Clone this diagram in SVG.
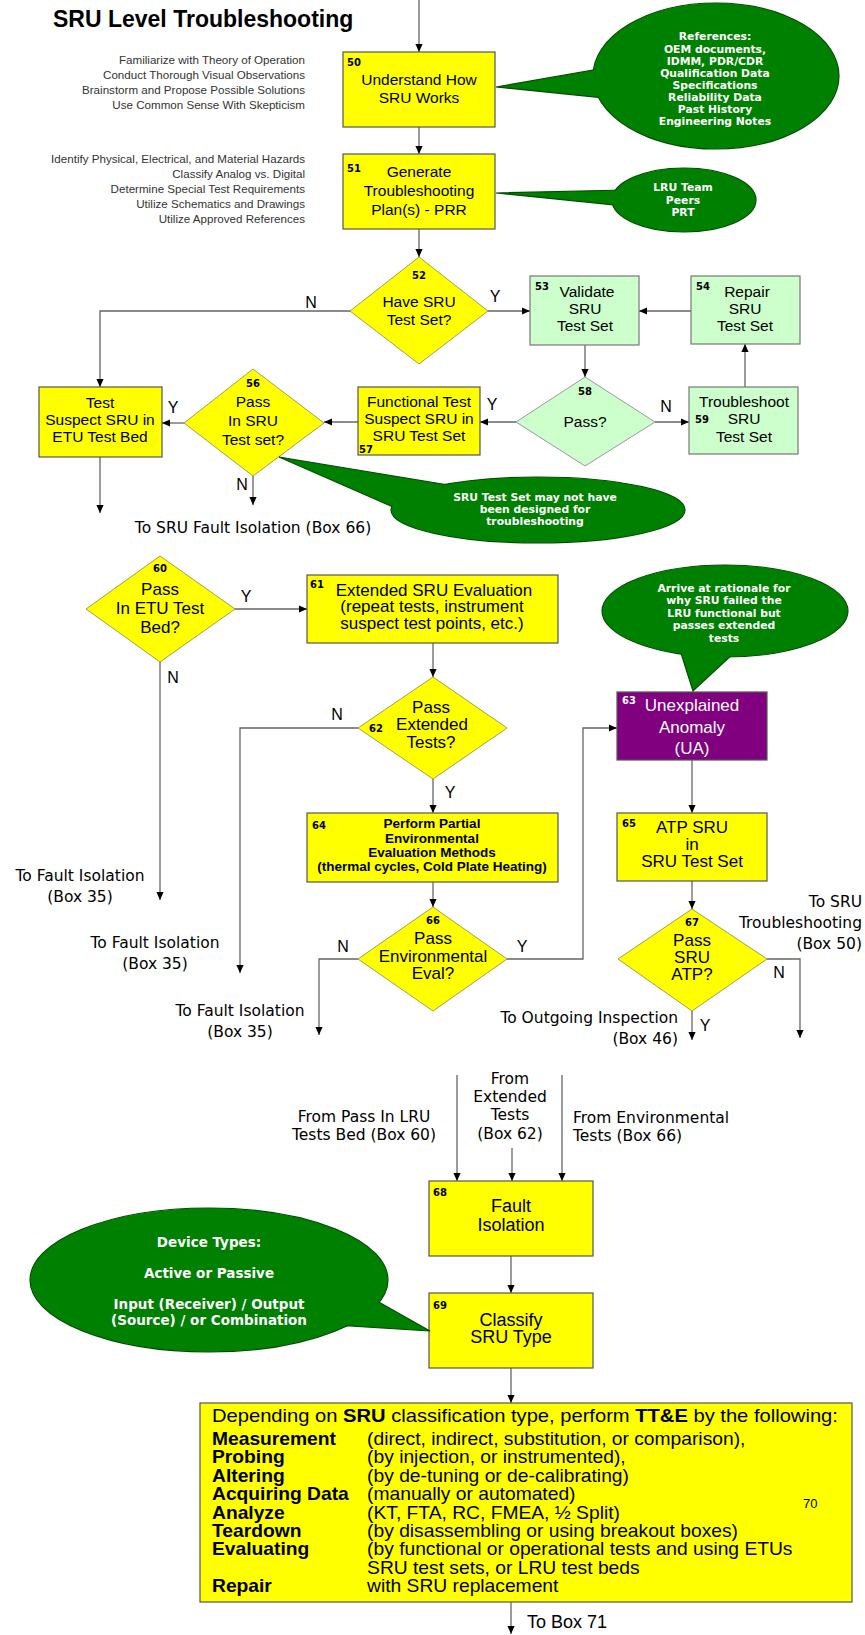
<svg xmlns="http://www.w3.org/2000/svg" width="865" height="1635" viewBox="0 0 865 1635">
<defs>
<style>
.by{fill:#ffff00;stroke:#555;stroke-width:1.2}
.bgr{fill:#ccffcc;stroke:#777;stroke-width:1.2}
.bp{fill:#800080;stroke:#555;stroke-width:1.2}
.dy{fill:#ffff00;stroke:#a0a050;stroke-width:1}
.dg{fill:#ccffcc;stroke:#9a9a9a;stroke-width:1}
.cl{fill:#008000;stroke:#004d00;stroke-width:1.2}
.cf{fill:#008000;stroke:none}
.ln{fill:none;stroke:#666;stroke-width:1.3;marker-end:url(#ah)}
text{font-family:"Liberation Sans",Arial,sans-serif;fill:#000}
.a{font-size:15.5px;text-anchor:middle}
.b{font-size:17px;text-anchor:middle}
.c{font-size:18px;text-anchor:middle}
.n{font-family:"DejaVu Sans",Verdana,sans-serif;font-weight:bold;font-size:10px}
.m{text-anchor:middle}
.yn{font-size:16px;text-anchor:middle}
.tw{font-family:"DejaVu Sans",Verdana,sans-serif;font-size:15.5px}
.ct{font-family:"DejaVu Sans",Verdana,sans-serif;font-weight:bold;fill:#fff;text-anchor:middle}
.nt{font-size:11.6px;fill:#333;text-anchor:end}
.w{fill:#fff}
.bd{font-weight:bold}
</style>
<marker id="ah" viewBox="0 0 10 10" refX="10" refY="5" markerWidth="8" markerHeight="8" markerUnits="userSpaceOnUse" orient="auto"><path d="M0,0.5 L10,5 L0,9.5 z" fill="#000"/></marker>
</defs>
<rect width="865" height="1635" fill="#fff"/>

<g id="title">
<text x="53" y="27" font-size="23" font-weight="bold">SRU Level Troubleshooting</text>
</g>

<g id="notes1">
<text class="nt" x="305" y="64">Familiarize with Theory of Operation</text>
<text class="nt" x="305" y="79">Conduct Thorough Visual Observations</text>
<text class="nt" x="305" y="94">Brainstorm and Propose Possible Solutions</text>
<text class="nt" x="305" y="109">Use Common Sense With Skepticism</text>
</g>
<g id="notes2">
<text class="nt" x="305" y="163">Identify Physical, Electrical, and Material Hazards</text>
<text class="nt" x="305" y="178">Classify Analog vs. Digital</text>
<text class="nt" x="305" y="193">Determine Special Test Requirements</text>
<text class="nt" x="305" y="208">Utilize Schematics and Drawings</text>
<text class="nt" x="305" y="223">Utilize Approved References</text>
</g>

<g id="connectors">
<path class="ln" d="M419,0 V52"/>
<path class="ln" d="M419,127 V154"/>
<path class="ln" d="M419,229 V257"/>
<path class="ln" d="M350,311 H100 V387"/>
<path class="ln" d="M488,311 H530"/>
<path class="ln" d="M691,311 H639"/>
<path class="ln" d="M585,345 V377"/>
<path class="ln" d="M655,422 H689"/>
<path class="ln" d="M745,387 V344"/>
<path class="ln" d="M516,422 H480"/>
<path class="ln" d="M358,422 H324"/>
<path class="ln" d="M184,423 H162"/>
<path class="ln" d="M100,457 V513"/>
<path class="ln" d="M253,476 V505"/>
<path class="ln" d="M235,609 H307"/>
<path class="ln" d="M160,662 V900"/>
<path class="ln" d="M433,643 V677"/>
<path class="ln" d="M358,728 H240 V973"/>
<path class="ln" d="M433,779 V813"/>
<path class="ln" d="M433,882 V907"/>
<path class="ln" d="M358,959 H319 V1035"/>
<path class="ln" d="M507,959 H583 V728 H617"/>
<path class="ln" d="M692,760 V813"/>
<path class="ln" d="M692,881 V909"/>
<path class="ln" d="M767,959 H800 V1038"/>
<path class="ln" d="M692,1011 V1040"/>
<path class="ln" d="M457,1075 V1181"/>
<path class="ln" d="M512,1148 V1181"/>
<path class="ln" d="M562,1075 V1181"/>
<path class="ln" d="M511,1256 V1293"/>
<path class="ln" d="M511,1368 V1403"/>
<path class="ln" d="M511,1602 V1634"/>
</g>

<g id="connector-labels">
<text class="yn" x="311" y="308">N</text>
<text class="yn" x="495" y="302">Y</text>
<text class="yn" x="492" y="410">Y</text>
<text class="yn" x="666" y="412">N</text>
<text class="yn" x="173" y="413">Y</text>
<text class="yn" x="242" y="490">N</text>
<text class="yn" x="246" y="602">Y</text>
<text class="yn" x="173" y="683">N</text>
<text class="yn" x="337" y="720">N</text>
<text class="yn" x="450" y="798">Y</text>
<text class="yn" x="343" y="952">N</text>
<text class="yn" x="522" y="952">Y</text>
<text class="yn" x="779" y="978">N</text>
<text class="yn" x="705" y="1031">Y</text>
<text class="tw m" x="253" y="533" font-size="14.7">To SRU Fault Isolation (Box 66)</text>
<text class="tw m" x="80" y="881">To Fault Isolation</text>
<text class="tw m" x="80" y="902">(Box 35)</text>
<text class="tw m" x="155" y="948">To Fault Isolation</text>
<text class="tw m" x="155" y="969">(Box 35)</text>
<text class="tw m" x="240" y="1016">To Fault Isolation</text>
<text class="tw m" x="240" y="1037">(Box 35)</text>
<text class="tw" x="862" y="907" text-anchor="end">To SRU</text>
<text class="tw" x="862" y="928" text-anchor="end">Troubleshooting</text>
<text class="tw" x="862" y="949" text-anchor="end">(Box 50)</text>
<text class="tw" x="678" y="1023" text-anchor="end">To Outgoing Inspection</text>
<text class="tw" x="678" y="1044" text-anchor="end">(Box 46)</text>
<text class="tw m" x="364" y="1122" font-size="17">From Pass In LRU</text>
<text class="tw m" x="364" y="1140" font-size="17">Tests Bed (Box 60)</text>
<text class="tw m" x="510" y="1084" font-size="16.5">From</text>
<text class="tw m" x="510" y="1102" font-size="16.5">Extended</text>
<text class="tw m" x="510" y="1120" font-size="16.5">Tests</text>
<text class="tw m" x="510" y="1139" font-size="16.5">(Box 62)</text>
<text class="tw" x="573" y="1123" font-size="16.5">From Environmental</text>
<text class="tw" x="573" y="1141" font-size="16.5">Tests (Box 66)</text>
<text x="527" y="1628" font-size="18">To Box 71</text>
</g>

<g id="n50">
<rect class="by" x="343" y="52" width="152" height="75"/>
<text class="n" x="347" y="66">50</text>
<text class="a" x="419" y="85">Understand How</text>
<text class="a" x="419" y="103">SRU Works</text>
</g>
<g id="n51">
<rect class="by" x="343" y="154" width="152" height="75"/>
<text class="n" x="347" y="172">51</text>
<text class="a" x="419" y="177">Generate</text>
<text class="a" x="419" y="196">Troubleshooting</text>
<text class="a" x="419" y="215">Plan(s) - PRR</text>
</g>
<g id="n52">
<polygon class="dy" points="419,257 488,311 419,364 350,311"/>
<text class="n m" x="419" y="279">52</text>
<text class="a" x="419" y="307">Have SRU</text>
<text class="a" x="419" y="325">Test Set?</text>
</g>
<g id="n53">
<rect class="bgr" x="530" y="276" width="109" height="69"/>
<text class="n" x="535" y="290">53</text>
<text class="a" x="587" y="297">Validate</text>
<text class="a" x="585" y="314">SRU</text>
<text class="a" x="585" y="331">Test Set</text>
</g>
<g id="n54">
<rect class="bgr" x="691" y="276" width="109" height="68"/>
<text class="n" x="696" y="290">54</text>
<text class="a" x="747" y="297">Repair</text>
<text class="a" x="745" y="314">SRU</text>
<text class="a" x="745" y="331">Test Set</text>
</g>
<g id="n58">
<polygon class="dg" points="585,377 655,422 585,466 516,422"/>
<text class="n m" x="585" y="395">58</text>
<text class="a" x="585" y="427">Pass?</text>
</g>
<g id="n59">
<rect class="bgr" x="689" y="387" width="109" height="67"/>
<text class="n" x="695" y="423">59</text>
<text class="a" x="744" y="407">Troubleshoot</text>
<text class="a" x="744" y="424">SRU</text>
<text class="a" x="744" y="442">Test Set</text>
</g>
<g id="n57">
<rect class="by" x="358" y="387" width="122" height="68"/>
<text class="a" x="419" y="407">Functional Test</text>
<text class="a" x="419" y="424">Suspect SRU in</text>
<text class="a" x="419" y="441">SRU Test Set</text>
<text class="n" x="359" y="453">57</text>
</g>
<g id="n56">
<polygon class="dy" points="253,369 324,423 253,476 184,423"/>
<text class="n m" x="253" y="387">56</text>
<text class="a" x="253" y="407">Pass</text>
<text class="a" x="253" y="426">In SRU</text>
<text class="a" x="253" y="445">Test set?</text>
</g>
<g id="n55">
<rect class="by" x="39" y="387" width="123" height="70"/>
<text class="a" x="100" y="408">Test</text>
<text class="a" x="100" y="425">Suspect SRU in</text>
<text class="a" x="100" y="442">ETU Test Bed</text>
</g>
<g id="n60">
<polygon class="dy" points="160,556 235,609 160,662 86,609"/>
<text class="n m" x="160" y="572">60</text>
<text class="b" x="160" y="595">Pass</text>
<text class="b" x="160" y="614">In ETU Test</text>
<text class="b" x="160" y="633">Bed?</text>
</g>
<g id="n61">
<rect class="by" x="307" y="575" width="251" height="68"/>
<text class="n" x="310" y="588">61</text>
<text class="b" x="434" y="596">Extended SRU Evaluation</text>
<text class="b" x="432" y="612">(repeat tests, instrument</text>
<text class="b" x="432" y="629">suspect test points, etc.)</text>
</g>
<g id="n62">
<polygon class="dy" points="433,677 507,728 433,779 358,728"/>
<text class="n" x="369" y="732">62</text>
<text class="b" x="431" y="713">Pass</text>
<text class="b" x="432" y="730">Extended</text>
<text class="b" x="431" y="748">Tests?</text>
</g>
<g id="n64">
<rect class="by" x="307" y="813" width="251" height="69"/>
<text class="n" x="312" y="829">64</text>
<text class="m bd" x="432" y="828" font-size="13.5">Perform Partial</text>
<text class="m bd" x="432" y="843" font-size="13.5">Environmental</text>
<text class="m bd" x="432" y="857" font-size="13.5">Evaluation Methods</text>
<text class="m bd" x="432" y="871" font-size="13.5">(thermal cycles, Cold Plate Heating)</text>
</g>
<g id="n66">
<polygon class="dy" points="433,907 507,959 433,1011 358,959"/>
<text class="n m" x="433" y="924">66</text>
<text class="b" x="433" y="944">Pass</text>
<text class="b" x="433" y="962">Environmental</text>
<text class="b" x="433" y="979">Eval?</text>
</g>
<g id="n63">
<rect class="bp" x="617" y="692" width="150" height="68"/>
<text class="n w" x="622" y="704">63</text>
<text class="b w" x="692" y="711">Unexplained</text>
<text class="b w" x="692" y="733">Anomaly</text>
<text class="b w" x="692" y="754">(UA)</text>
</g>
<g id="n65">
<rect class="by" x="617" y="813" width="150" height="68"/>
<text class="n" x="622" y="827">65</text>
<text class="b" x="692" y="833">ATP SRU</text>
<text class="b" x="692" y="850">in</text>
<text class="b" x="692" y="867">SRU Test Set</text>
</g>
<g id="n67">
<polygon class="dy" points="692,909 767,959 692,1011 618,959"/>
<text class="n m" x="692" y="926">67</text>
<text class="b" x="692" y="946">Pass</text>
<text class="b" x="692" y="963">SRU</text>
<text class="b" x="692" y="980">ATP?</text>
</g>
<g id="n68">
<rect class="by" x="429" y="1181" width="164" height="75"/>
<text class="n" x="433" y="1196">68</text>
<text class="c" x="511" y="1212">Fault</text>
<text class="c" x="511" y="1231">Isolation</text>
</g>
<g id="n69">
<rect class="by" x="429" y="1293" width="164" height="75"/>
<text class="n" x="433" y="1309">69</text>
<text class="c" x="511" y="1326">Classify</text>
<text class="c" x="511" y="1343">SRU Type</text>
</g>
<g id="n70">
<rect class="by" x="200" y="1403" width="652" height="199"/>
<g transform="matrix(1.1 0 0 1 212 0)" font-size="17.5">
<text x="0" y="1422" textLength="569" lengthAdjust="spacingAndGlyphs">Depending on <tspan font-weight="bold">SRU</tspan> classification type, perform <tspan font-weight="bold">TT&amp;E</tspan> by the following:</text>
<text class="bd" x="0" y="1445">Measurement</text>
<text class="bd" x="0" y="1463">Probing</text>
<text class="bd" x="0" y="1482">Altering</text>
<text class="bd" x="0" y="1500">Acquiring Data</text>
<text class="bd" x="0" y="1519">Analyze</text>
<text class="bd" x="0" y="1537">Teardown</text>
<text class="bd" x="0" y="1555">Evaluating</text>
<text class="bd" x="0" y="1592">Repair</text>
<text x="141" y="1445">(direct, indirect, substitution, or comparison),</text>
<text x="141" y="1463">(by injection, or instrumented),</text>
<text x="141" y="1482">(by de-tuning or de-calibrating)</text>
<text x="141" y="1500">(manually or automated)</text>
<text x="141" y="1519">(KT, FTA, RC, FMEA, ½ Split)</text>
<text x="141" y="1537">(by disassembling or using breakout boxes)</text>
<text x="141" y="1555">(by functional or operational tests and using ETUs</text>
<text x="141" y="1574">SRU test sets, or LRU test beds</text>
<text x="141" y="1592">with SRU replacement</text>
</g>
<text x="803" y="1508" font-size="13">70</text>
</g>

<g id="callout-references">
<ellipse class="cl" cx="716" cy="76" rx="123" ry="73"/>
<polygon class="cl" points="496,87 605,68 605,98"/>
<ellipse class="cf" cx="716" cy="76" rx="122.4" ry="72.4"/>
<g font-size="10.8">
<text class="ct" x="715" y="40">References:</text>
<text class="ct" x="715" y="53">OEM documents,</text>
<text class="ct" x="715" y="65">IDMM, PDR/CDR</text>
<text class="ct" x="715" y="77">Qualification Data</text>
<text class="ct" x="715" y="89">Specifications</text>
<text class="ct" x="715" y="101">Reliability  Data</text>
<text class="ct" x="715" y="113">Past History</text>
<text class="ct" x="715" y="125">Engineering Notes</text>
</g>
</g>
<g id="callout-team">
<ellipse class="cl" cx="684" cy="200" rx="72" ry="32"/>
<polygon class="cl" points="496,193 625,190 625,206"/>
<ellipse class="cf" cx="684" cy="200" rx="71.4" ry="31.4"/>
<g font-size="10.8">
<text class="ct" x="683" y="191">LRU Team</text>
<text class="ct" x="683" y="204">Peers</text>
<text class="ct" x="683" y="216">PRT</text>
</g>
</g>
<g id="callout-testset">
<ellipse class="cl" cx="538" cy="510" rx="147" ry="33"/>
<polygon class="cl" points="279,457 460,487 400,510"/>
<ellipse class="cf" cx="538" cy="510" rx="146.4" ry="32.4"/>
<g font-size="10.8">
<text class="ct" x="535" y="501">SRU Test Set may not have</text>
<text class="ct" x="535" y="513">been designed  for</text>
<text class="ct" x="535" y="525">troubleshooting</text>
</g>
</g>
<g id="callout-rationale">
<ellipse class="cl" cx="725" cy="611" rx="123" ry="46"/>
<polygon class="cl" points="693,691 680,650 735,652"/>
<ellipse class="cf" cx="725" cy="611" rx="122.4" ry="45.4"/>
<g font-size="10.8">
<text class="ct" x="724" y="592">Arrive at rationale for</text>
<text class="ct" x="724" y="604">why SRU failed  the</text>
<text class="ct" x="724" y="617">LRU functional but</text>
<text class="ct" x="724" y="629">passes extended</text>
<text class="ct" x="724" y="642">tests</text>
</g>
</g>
<g id="callout-devices">
<ellipse class="cl" cx="209" cy="1280" rx="179" ry="72"/>
<polygon class="cl" points="430,1331 375,1300 335,1325"/>
<ellipse class="cf" cx="209" cy="1280" rx="178.4" ry="71.4"/>
<g font-size="13.5">
<text class="ct" x="209" y="1247">Device Types:</text>
<text class="ct" x="209" y="1278">Active or Passive</text>
<text class="ct" x="209" y="1309">Input (Receiver) / Output</text>
<text class="ct" x="209" y="1325">(Source) / or Combination</text>
</g>
</g>
</svg>
